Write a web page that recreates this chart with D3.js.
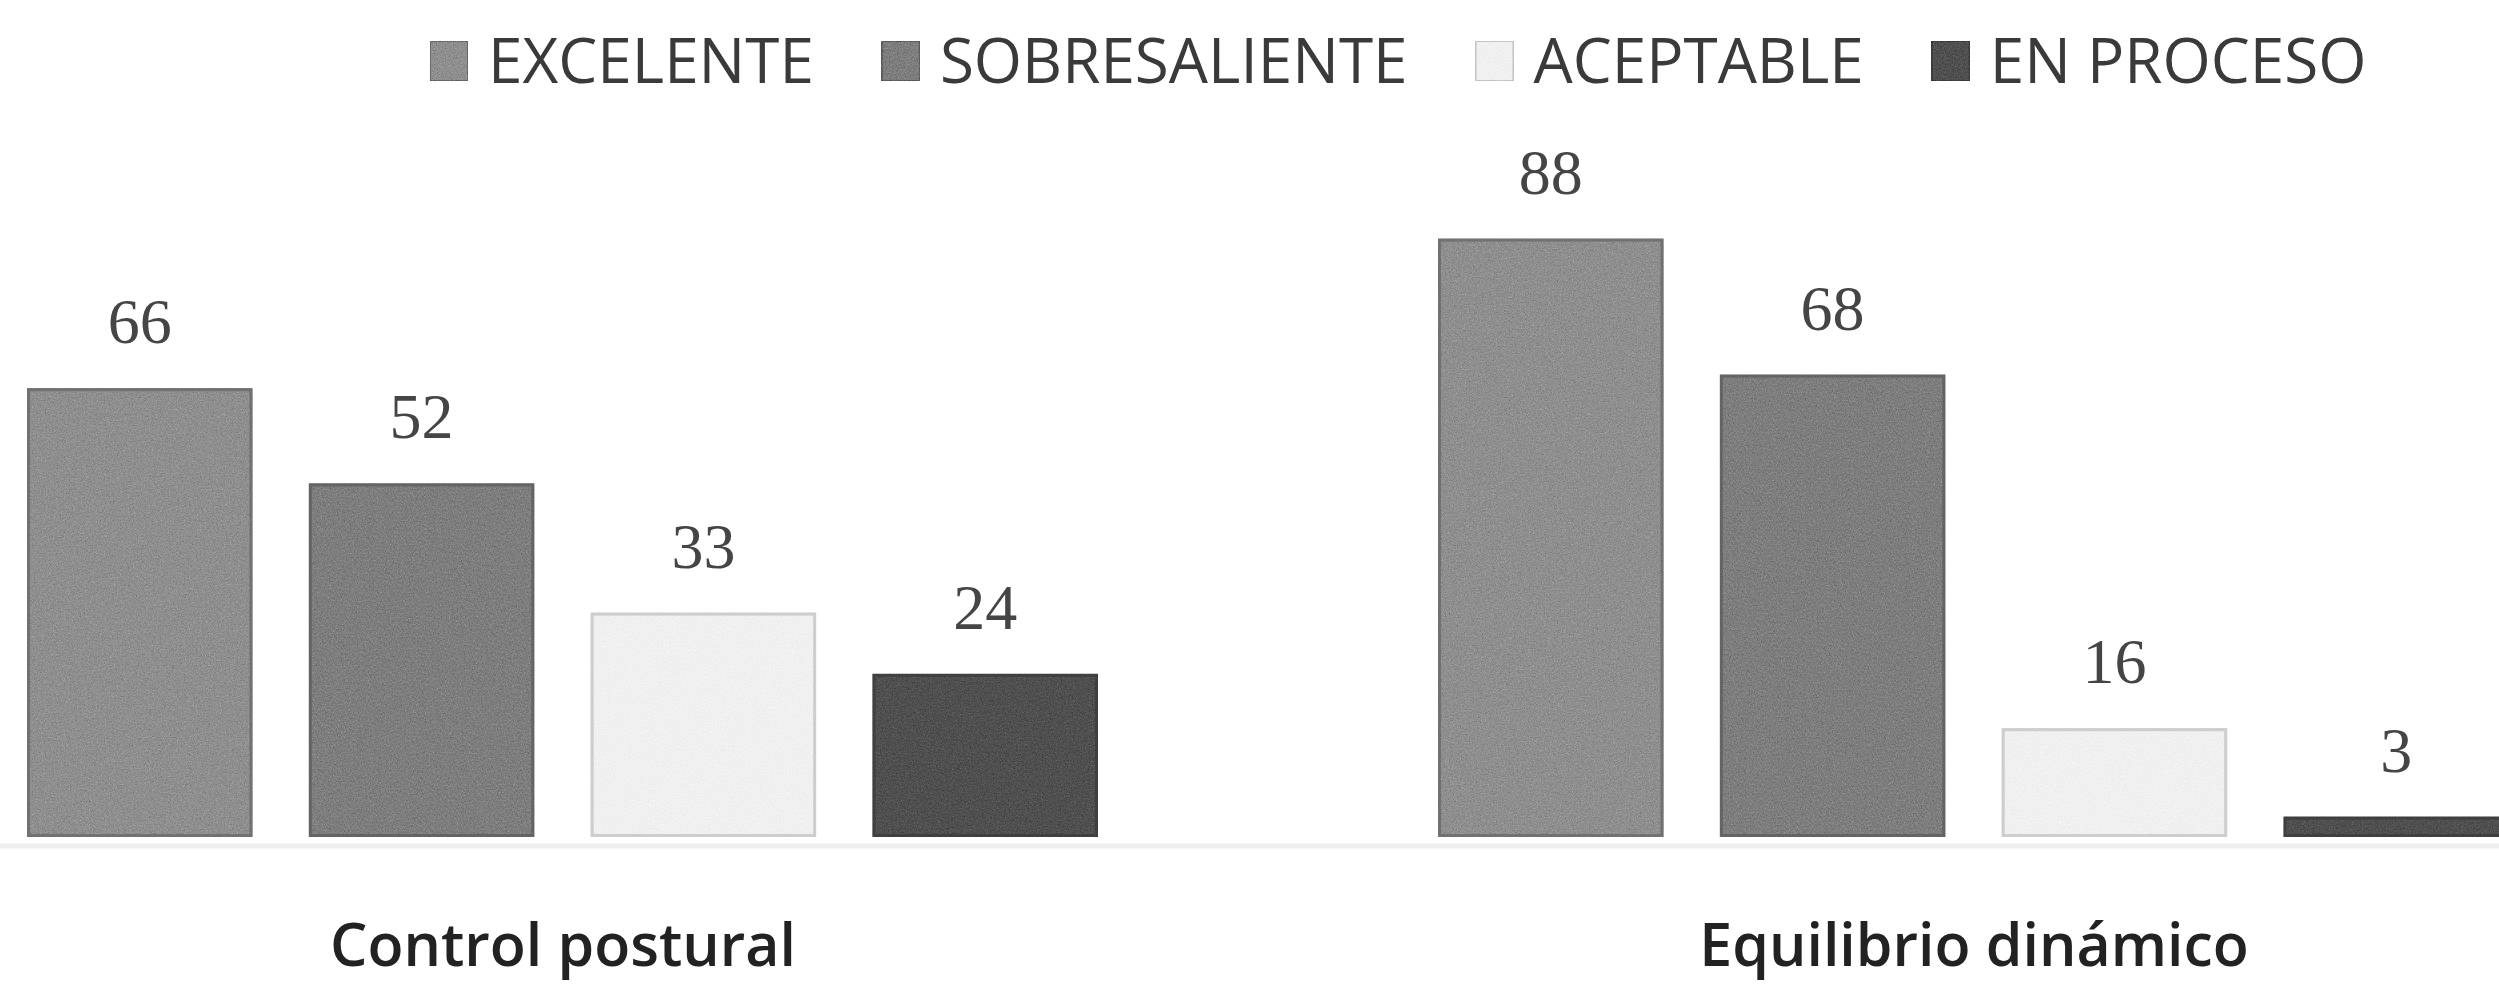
<!DOCTYPE html>
<html>
<head>
<meta charset="utf-8">
<script src="https://cdn.jsdelivr.net/npm/d3@7"></script>
<style>
  html, body { margin: 0; padding: 0; background: #ffffff; }
  svg { display: block; }
</style>
</head>
<body>
<svg id="chart" width="2499" height="987"></svg>
<script>
// ---- data ----
const categories = ["Control postural", "Equilibrio dinámico"];
const series = ["EXCELENTE", "SOBRESALIENTE", "ACEPTABLE", "EN PROCESO"];
const excelente = [66, 88];
const sobresaliente = [52, 68];
const aceptable = [33, 16];
const enProceso = [24, 3];
const seriesValues = [excelente, sobresaliente, aceptable, enProceso];

// ---- style ----
const fills = ["#8f8f8f", "#7e7e7e", "#f0f0f0", "#505050"];
const strokes = ["#6a6a6a", "#5e5e5e", "#c4c4c4", "#3c3c3c"];
const noiseAmt = [0.5, 0.5, 0.15, 0.45];

const W = 2499, H = 987;
const svg = d3.select("#chart");

// noise filters (zero-mean grain added to the bar colour)
const defs = svg.append("defs");
noiseAmt.forEach((a, i) => {
  const f = defs.append("filter").attr("id", "grain" + i)
    .attr("x", 0).attr("y", 0).attr("width", 1).attr("height", 1)
    .attr("color-interpolation-filters", "sRGB");
  f.append("feTurbulence").attr("type", "fractalNoise").attr("baseFrequency", 0.75)
    .attr("numOctaves", 2).attr("seed", 7 + i).attr("result", "noise");
  f.append("feColorMatrix").attr("in", "noise").attr("type", "matrix")
    .attr("values", "0.33 0.33 0.33 0 0  0.33 0.33 0.33 0 0  0.33 0.33 0.33 0 0  0 0 0 0 1")
    .attr("result", "gnoise");
  f.append("feComposite").attr("in", "SourceGraphic").attr("in2", "gnoise")
    .attr("operator", "arithmetic").attr("k1", 0).attr("k2", 1).attr("k3", a).attr("k4", -a / 2)
    .attr("result", "mixed");
  f.append("feComposite").attr("in", "mixed").attr("in2", "SourceGraphic").attr("operator", "in");
});

// ---- scales ----
const baseY = 837;
const y = d3.scaleLinear().domain([0, 100]).range([baseY, baseY - 680]);

const x0 = d3.scaleBand().domain(categories).range([27, 2509]).paddingInner(0.241).paddingOuter(0);
const x1 = d3.scaleBand().domain(series).range([0, x0.bandwidth()]).paddingInner(0.2);

// faint baseline
svg.append("line")
  .attr("x1", 0).attr("x2", W).attr("y1", baseY + 9).attr("y2", baseY + 9)
  .attr("stroke", "#efefef").attr("stroke-width", 5);

// ---- bars ----
const rows = [];
categories.forEach((c, ci) => {
  series.forEach((s, si) => {
    rows.push({ c, s, si, v: seriesValues[si][ci] });
  });
});

const g = svg.append("g");
g.selectAll("rect.bar").data(rows).enter().append("rect")
  .attr("class", "bar")
  .attr("x", d => x0(d.c) + x1(d.s))
  .attr("y", d => y(d.v))
  .attr("width", x1.bandwidth())
  .attr("height", d => baseY - y(d.v))
  .attr("fill", d => fills[d.si])
  .attr("filter", d => `url(#grain${d.si})`);

g.selectAll("rect.edge").data(rows).enter().append("rect")
  .attr("class", "edge")
  .attr("x", d => x0(d.c) + x1(d.s) + 1.5)
  .attr("y", d => y(d.v) + 1.5)
  .attr("width", x1.bandwidth() - 3)
  .attr("height", d => Math.max(0, baseY - y(d.v) - 3))
  .attr("fill", "none")
  .attr("stroke", d => strokes[d.si])
  .attr("stroke-width", 3)
  .attr("opacity", 0.8);

// value labels
g.selectAll("text.val").data(rows).enter().append("text")
  .attr("class", "val")
  .attr("x", d => x0(d.c) + x1(d.s) + x1.bandwidth() / 2)
  .attr("y", d => y(d.v) - 45)
  .attr("text-anchor", "middle")
  .attr("font-family", "'Liberation Serif', 'Times New Roman', serif")
  .attr("font-size", 64)
  .attr("fill", "#454545")
  .text(d => d.v);

// category axis labels
const xAxis = d3.axisBottom(d3.scalePoint().domain(categories)
  .range([x0(categories[0]) + x0.bandwidth() / 2, x0(categories[1]) + x0.bandwidth() / 2]))
  .tickSize(0).tickPadding(0);
const ax = svg.append("g").attr("transform", `translate(0, 966)`).call(xAxis);
ax.select(".domain").remove();
ax.selectAll("text")
  .attr("dy", 0)
  .attr("font-family", "'Open Sans', sans-serif")
  .attr("font-weight", 600)
  .attr("font-size", 59)
  .attr("fill", "#222");

// ---- legend ----
const leg = svg.append("g");
let cx = 430;
series.forEach((s, si) => {
  leg.append("rect")
    .attr("x", cx).attr("y", 41).attr("width", 38).attr("height", 40)
    .attr("fill", fills[si])
    .attr("stroke", strokes[si]).attr("stroke-width", 2)
    .attr("filter", `url(#grain${si})`);
  const t = leg.append("text")
    .attr("x", cx + 58).attr("y", 83)
    .attr("font-family", "'Open Sans', sans-serif")
    .attr("font-size", 62)
    .attr("fill", "#3a3a3a")
    .text(s);
  const w = t.node().getComputedTextLength();
  cx = cx + 58 + w + 68;
});
</script>
</body>
</html>
